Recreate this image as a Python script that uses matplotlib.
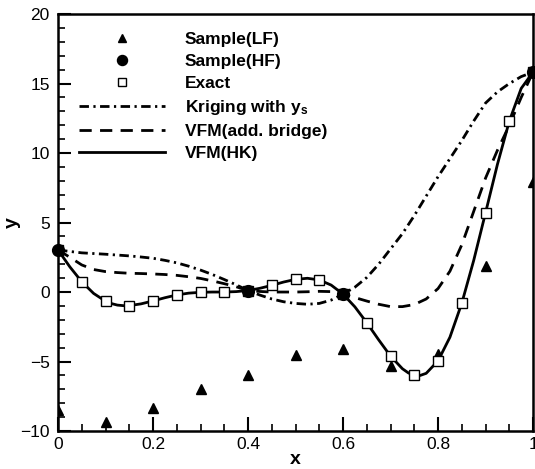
import numpy as np
import matplotlib
matplotlib.use("Agg")
from matplotlib import pyplot as plt
from matplotlib.ticker import MultipleLocator

plt.rcParams['font.family'] = ['Liberation Sans', 'DejaVu Sans']
plt.rcParams['mathtext.fontset'] = 'custom'
plt.rcParams['mathtext.rm'] = 'Liberation Sans:bold'
plt.rcParams['mathtext.it'] = 'Liberation Sans:bold'
plt.rcParams['mathtext.bf'] = 'Liberation Sans:bold'

# samples
x_lf = [0.0, 0.1, 0.2, 0.3, 0.4, 0.5, 0.6, 0.7, 0.8, 0.9, 1.0]
y_lf = [-8.49, -9.33, -8.32, -7.01, -5.94, -4.55, -4.07, -5.30, -4.47, 1.86, 7.92]

x_hf = [0.0, 0.4, 0.6, 1.0]
y_hf = [3.03, 0.11, -0.15, 15.83]

x_ex = [0.0, 0.05, 0.1, 0.15, 0.2, 0.25, 0.3, 0.35, 0.4, 0.45, 0.5,
        0.55, 0.6, 0.65, 0.7, 0.75, 0.8, 0.85, 0.9, 0.95, 1.0]
y_ex = [3.03, 0.74, -0.66, -0.98, -0.64, -0.21, -0.02, 0.00, 0.11, 0.48, 0.91,
        0.87, -0.15, -2.21, -4.61, -5.99, -4.95, -0.80, 5.71, 12.30, 15.83]

# curves
x_c = [0.0, 0.025, 0.05, 0.075, 0.1, 0.125, 0.15, 0.175, 0.2, 0.225, 0.25,
       0.275, 0.3, 0.325, 0.35, 0.375, 0.4, 0.425, 0.45, 0.475, 0.5,
       0.525, 0.55, 0.575, 0.6, 0.625, 0.65, 0.675, 0.7, 0.725, 0.75,
       0.775, 0.8, 0.825, 0.85, 0.875, 0.9, 0.925, 0.95, 0.975, 1.0]

y_krig = [3.03, 2.92, 2.82, 2.77, 2.72, 2.66, 2.60, 2.52, 2.43, 2.28, 2.10,
          1.86, 1.58, 1.26, 0.90, 0.52, 0.11, -0.22, -0.50, -0.70, -0.82,
          -0.88, -0.82, -0.58, -0.15, 0.35, 1.05, 2.00, 3.10, 4.20, 5.50,
          6.90, 8.30, 9.60, 10.90, 12.30, 13.60, 14.40, 15.00, 15.50, 15.83]

y_bridge = [3.03, 2.50, 1.95, 1.62, 1.47, 1.40, 1.35, 1.33, 1.30, 1.26, 1.20,
            1.10, 0.98, 0.80, 0.60, 0.38, 0.11, 0.04, 0.00, 0.00, 0.00,
            0.02, 0.05, 0.03, -0.15, -0.40, -0.65, -0.88, -1.05, -1.05, -0.90,
            -0.50, 0.25, 1.50, 3.40, 5.80, 8.20, 10.20, 12.00, 14.00, 15.83]

x_hk = [0.0, 0.025, 0.05, 0.075, 0.1, 0.1125, 0.125, 0.1375, 0.15, 0.175, 0.2,
        0.225, 0.25, 0.275, 0.3, 0.325, 0.35, 0.375, 0.4, 0.425, 0.45,
        0.475, 0.5, 0.525, 0.55, 0.575, 0.6, 0.625, 0.65, 0.675, 0.7,
        0.725, 0.7375, 0.75, 0.7625, 0.775, 0.8, 0.825, 0.85, 0.875, 0.9,
        0.925, 0.95, 0.975, 1.0]
y_hk = [3.03, 1.81, 0.74, -0.10, -0.66, -0.83, -0.94, -0.98, -0.98, -0.85, -0.64,
        -0.41, -0.21, -0.08, -0.02, 0.00, 0.00, 0.03, 0.11, 0.27, 0.48,
        0.72, 0.91, 0.99, 0.87, 0.50, -0.15, -1.07, -2.21, -3.44, -4.61,
        -5.52, -5.82, -5.99, -6.00, -5.85, -4.95, -3.25, -0.80, 2.27, 5.71,
        9.19, 12.30, 14.65, 15.83]

fig = plt.figure(figsize=(5.35, 4.69), dpi=100)
ax = fig.add_axes([0.1084, 0.081, 0.888, 0.889])

lw = 2.0
ax.plot(x_c, y_krig, color='k', lw=lw, dashes=(3.4, 1.6, 0.8, 1.6),
        label='Kriging with y$_\\mathrm{s}$', zorder=2)
ax.plot(x_c, y_bridge, color='k', lw=lw, dashes=(4.4, 3.0),
        label='VFM(add. bridge)', zorder=2)
ax.plot(x_hk, y_hk, color='k', lw=lw, label='VFM(HK)', zorder=2)

ax.plot(x_lf, y_lf, ls='none', marker='^', ms=7.5, color='k',
        label='Sample(LF)', zorder=3)
ax.plot(x_hf, y_hf, ls='none', marker='o', ms=8.5, color='k',
        label='Sample(HF)', zorder=4, clip_on=False)
ax.plot(x_ex, y_ex, ls='none', marker='s', ms=7, mfc='white', mec='k',
        mew=1.0, label='Exact', zorder=3)

ax.set_xlim(0, 1)
ax.set_ylim(-10, 20)
ax.xaxis.set_major_locator(MultipleLocator(0.2))
ax.xaxis.set_minor_locator(MultipleLocator(0.05))
ax.yaxis.set_major_locator(MultipleLocator(5))
ax.yaxis.set_minor_locator(MultipleLocator(1))
ax.set_xticks([0, 0.2, 0.4, 0.6, 0.8, 1.0])
ax.set_xticklabels(['0', '0.2', '0.4', '0.6', '0.8', '1'])

ax.tick_params(which='both', direction='in', top=False, right=False,
               labelsize=12.5)
ax.tick_params(axis='x', which='major', length=10, width=1.5, pad=4)
ax.tick_params(axis='x', which='minor', length=5, width=1.2)
ax.tick_params(axis='y', which='major', length=9, width=1.5, pad=6)
ax.tick_params(axis='y', which='minor', length=5, width=1.2)
for s in ax.spines.values():
    s.set_linewidth(1.8)

ax.set_xlabel('x', fontsize=14, fontweight='bold', va='center')
ax.set_ylabel('y', fontsize=14, fontweight='bold', va='center')
ax.xaxis.set_label_coords(0.5, -0.068)
ax.yaxis.set_label_coords(-0.096, 0.5)

h, l = ax.get_legend_handles_labels()
order = [3, 4, 5, 0, 1, 2]
ax.legend([h[i] for i in order], [l[i] for i in order],
          loc='upper left', bbox_to_anchor=(0.044, 0.957), frameon=False,
          borderpad=0, borderaxespad=0, handlelength=4.95,
          handletextpad=1.15, labelspacing=0.39, markerscale=0.85,
          prop={'weight': 'bold', 'size': 12.5})

fig.savefig('out.png', dpi=100)
